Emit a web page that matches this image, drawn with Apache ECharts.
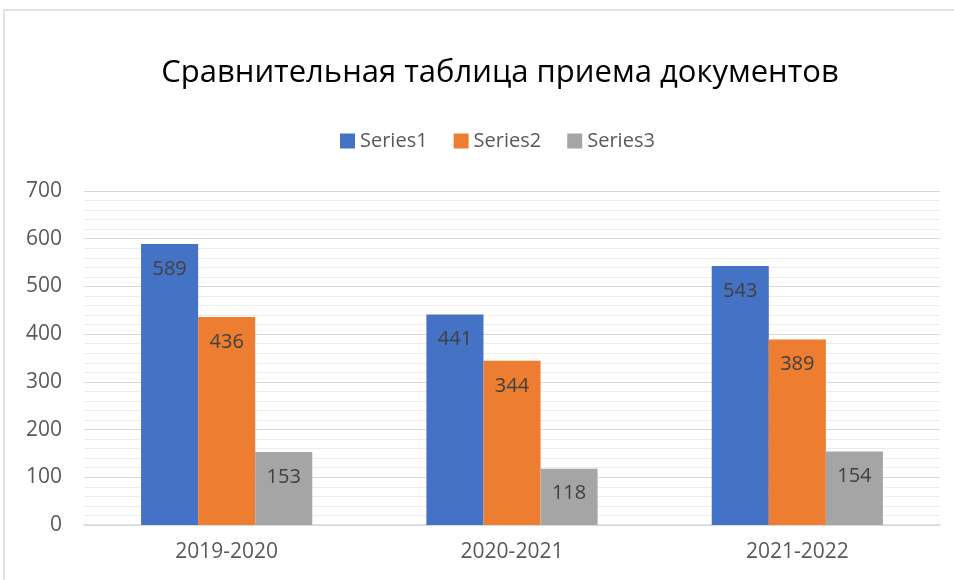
<!DOCTYPE html>
<html>
<head>
<meta charset="utf-8">
<script src="https://cdn.jsdelivr.net/npm/echarts@6/dist/echarts.min.js"></script>
<style>
html, body { margin: 0; padding: 0; background: #fff; }
#chart { width: 954px; height: 580px; }
</style>
</head>
<body>
<div id="chart"></div>
<script>
var categories = ['2019-2020', '2020-2021', '2021-2022'];
var series1 = [589, 441, 543];
var series2 = [436, 344, 389];
var series3 = [153, 118, 154];
var seriesNames = ['Series1', 'Series2', 'Series3'];
var colors = ['#4472c4', '#ed7d31', '#a5a5a5'];

var font = '"Open Sans", "Noto Sans", sans-serif';
var myChart = echarts.init(document.getElementById('chart'));

function bar(name, data, color) {
    return {
        name: name,
        type: 'bar',
        data: data,
        barGap: '0%',
        barCategoryGap: '40%',
        itemStyle: { color: color },
        label: {
            show: true,
            position: 'insideTop',
            distance: 15,
            color: '#404040',
            fontSize: 20,
            fontFamily: font
        }
    };
}

var option = {
    animation: false,
    color: colors,
    title: {
        text: 'Сравнительная таблица приема документов',
        left: 495,
        top: 53,
        textAlign: 'center',
        textStyle: {
            color: '#000',
            fontSize: 31,
            fontWeight: 'normal',
            fontFamily: font
        }
    },
    legend: {
        top: 126,
        left: 335,
        itemWidth: 15,
        itemHeight: 15,
        itemGap: 26,
        icon: 'rect',
        textStyle: { color: '#595959', fontSize: 20, fontFamily: font },
        data: seriesNames
    },
    graphic: [{
        type: 'rect',
        shape: { x: 4, y: 10, width: 1000, height: 700 },
        style: { fill: 'none', stroke: '#d9d9d9', lineWidth: 1.5 },
        silent: true
    }],
    grid: { left: 84, right: 14, top: 191, bottom: 55 },
    xAxis: {
        type: 'category',
        data: categories,
        axisTick: { show: false },
        axisLine: { lineStyle: { color: '#d9d9d9', width: 1.5 } },
        axisLabel: { color: '#595959', fontSize: 21, fontFamily: font, margin: 17 }
    },
    yAxis: {
        type: 'value',
        min: 0,
        max: 700,
        interval: 100,
        axisLine: { show: false },
        axisTick: { show: false },
        axisLabel: { color: '#595959', fontSize: 21, fontFamily: font, margin: 22 },
        splitLine: { lineStyle: { color: '#d9d9d9', width: 1.2 } },
        minorTick: { show: false, splitNumber: 5 },
        minorSplitLine: { show: true, lineStyle: { color: '#ececec', width: 1 } }
    },
    series: [
        bar(seriesNames[0], series1, colors[0]),
        bar(seriesNames[1], series2, colors[1]),
        bar(seriesNames[2], series3, colors[2])
    ]
};

myChart.setOption(option);
</script>
</body>
</html>
